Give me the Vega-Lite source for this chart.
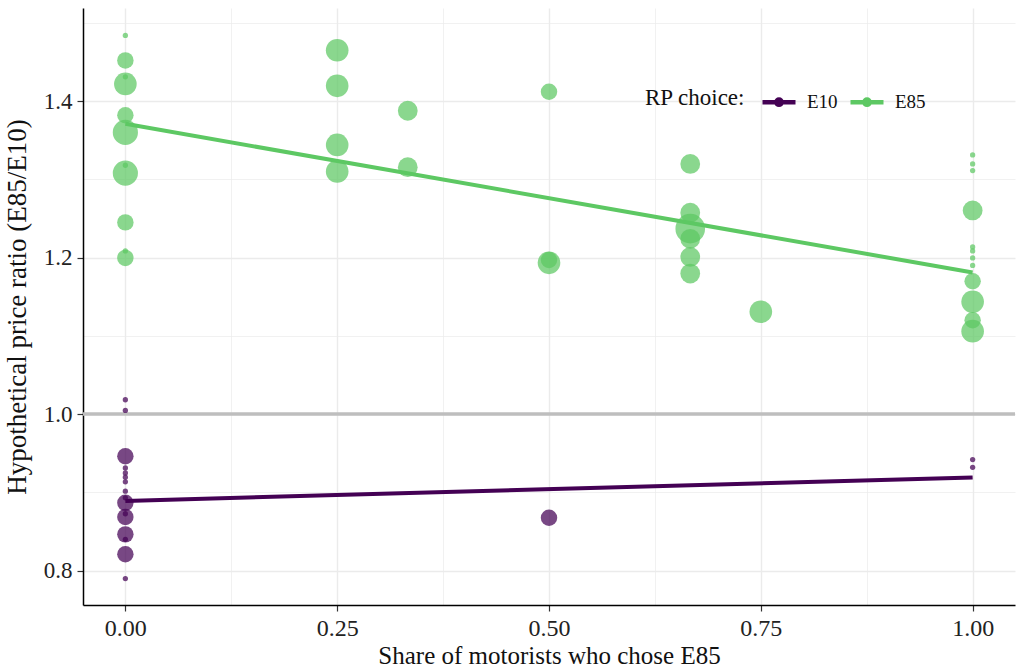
{
  "$schema": "https://vega.github.io/schema/vega-lite/v6.json",
  "width": 932,
  "height": 597,
  "autosize": {"type": "none"},
  "padding": {"left": 83, "top": 8, "right": 4, "bottom": 66},
  "background": "white",
  "config": {
    "view": {"stroke": null},
    "font": "Liberation Serif",
    "axis": {
      "labelFont": "Liberation Serif",
      "titleFont": "Liberation Serif",
      "labelColor": "#222",
      "titleColor": "#111",
      "titleFontWeight": "normal",
      "gridColor": "#EBEBEB",
      "domainColor": "#000000",
      "domainWidth": 1.5,
      "tickColor": "#333333",
      "tickWidth": 1.2,
      "tickSize": 6
    },
    "legend": {
      "labelFont": "Liberation Serif",
      "titleFont": "Liberation Serif",
      "symbolOpacity": 1
    }
  },
  "datasets": {
    "hline": [{"ratio": 1.0}],
    "points": [
      {"share": 0, "ratio": 1.484, "choice": "E85", "n": 1},
      {"share": 0, "ratio": 1.452, "choice": "E85", "n": 3},
      {"share": 0, "ratio": 1.431, "choice": "E85", "n": 1},
      {"share": 0, "ratio": 1.422, "choice": "E85", "n": 5},
      {"share": 0, "ratio": 1.382, "choice": "E85", "n": 3},
      {"share": 0, "ratio": 1.360, "choice": "E85", "n": 6},
      {"share": 0, "ratio": 1.318, "choice": "E85", "n": 1},
      {"share": 0, "ratio": 1.308, "choice": "E85", "n": 6},
      {"share": 0, "ratio": 1.245, "choice": "E85", "n": 3},
      {"share": 0, "ratio": 1.2085, "choice": "E85", "n": 1},
      {"share": 0, "ratio": 1.1996, "choice": "E85", "n": 3},
      {"share": 0.25, "ratio": 1.465, "choice": "E85", "n": 5},
      {"share": 0.25, "ratio": 1.4195, "choice": "E85", "n": 5},
      {"share": 0.25, "ratio": 1.344, "choice": "E85", "n": 5},
      {"share": 0.25, "ratio": 1.310, "choice": "E85", "n": 5},
      {"share": 0.3333, "ratio": 1.3877, "choice": "E85", "n": 4},
      {"share": 0.3333, "ratio": 1.3155, "choice": "E85", "n": 4},
      {"share": 0.5, "ratio": 1.412, "choice": "E85", "n": 3},
      {"share": 0.5, "ratio": 1.197, "choice": "E85", "n": 3},
      {"share": 0.5, "ratio": 1.1933, "choice": "E85", "n": 5},
      {"share": 0.6667, "ratio": 1.3197, "choice": "E85", "n": 4},
      {"share": 0.6667, "ratio": 1.2573, "choice": "E85", "n": 4},
      {"share": 0.6667, "ratio": 1.237, "choice": "E85", "n": 8},
      {"share": 0.6667, "ratio": 1.224, "choice": "E85", "n": 4},
      {"share": 0.6667, "ratio": 1.2009, "choice": "E85", "n": 4},
      {"share": 0.6667, "ratio": 1.1796, "choice": "E85", "n": 4},
      {"share": 0.75, "ratio": 1.1308, "choice": "E85", "n": 5},
      {"share": 1, "ratio": 1.3312, "choice": "E85", "n": 1},
      {"share": 1, "ratio": 1.3197, "choice": "E85", "n": 1},
      {"share": 1, "ratio": 1.3112, "choice": "E85", "n": 1},
      {"share": 1, "ratio": 1.2603, "choice": "E85", "n": 4},
      {"share": 1, "ratio": 1.2136, "choice": "E85", "n": 1},
      {"share": 1, "ratio": 1.2085, "choice": "E85", "n": 1},
      {"share": 1, "ratio": 1.1996, "choice": "E85", "n": 1},
      {"share": 1, "ratio": 1.190, "choice": "E85", "n": 1},
      {"share": 1, "ratio": 1.1698, "choice": "E85", "n": 3},
      {"share": 1, "ratio": 1.1436, "choice": "E85", "n": 5},
      {"share": 1, "ratio": 1.120, "choice": "E85", "n": 3},
      {"share": 1, "ratio": 1.106, "choice": "E85", "n": 5},
      {"share": 0, "ratio": 1.0183, "choice": "E10", "n": 1},
      {"share": 0, "ratio": 1.0047, "choice": "E10", "n": 1},
      {"share": 0, "ratio": 0.9461, "choice": "E10", "n": 3},
      {"share": 0, "ratio": 0.9312, "choice": "E10", "n": 1},
      {"share": 0, "ratio": 0.9248, "choice": "E10", "n": 1},
      {"share": 0, "ratio": 0.9194, "choice": "E10", "n": 1},
      {"share": 0, "ratio": 0.9134, "choice": "E10", "n": 1},
      {"share": 0, "ratio": 0.9015, "choice": "E10", "n": 1},
      {"share": 0, "ratio": 0.893, "choice": "E10", "n": 1},
      {"share": 0, "ratio": 0.8866, "choice": "E10", "n": 3},
      {"share": 0, "ratio": 0.8726, "choice": "E10", "n": 1},
      {"share": 0, "ratio": 0.8684, "choice": "E10", "n": 3},
      {"share": 0, "ratio": 0.8463, "choice": "E10", "n": 3},
      {"share": 0, "ratio": 0.840, "choice": "E10", "n": 1},
      {"share": 0, "ratio": 0.8208, "choice": "E10", "n": 3},
      {"share": 0, "ratio": 0.7898, "choice": "E10", "n": 1},
      {"share": 0.5, "ratio": 0.8675, "choice": "E10", "n": 3},
      {"share": 1, "ratio": 0.9418, "choice": "E10", "n": 1},
      {"share": 1, "ratio": 0.932, "choice": "E10", "n": 1}
    ],
    "fits": [
      {"share": 0, "ratio": 0.889, "choice": "E10"},
      {"share": 1, "ratio": 0.919, "choice": "E10"},
      {"share": 0, "ratio": 1.371, "choice": "E85"},
      {"share": 1, "ratio": 1.181, "choice": "E85"}
    ]
  },
  "encoding": {
    "x": {
      "field": "share",
      "type": "quantitative",
      "scale": {"domain": [-0.05, 1.05], "nice": false, "zero": false},
      "axis": {
        "title": "Share of motorists who chose E85",
        "titleFontSize": 25,
        "titlePadding": 3,
        "labelFontSize": 24,
        "labelPadding": 5,
        "values": [0, 0.125, 0.25, 0.375, 0.5, 0.625, 0.75, 0.875, 1],
        "labelExpr": "abs(datum.value*4-round(datum.value*4))<0.01 ? format(datum.value, '.2f') : ''",
        "tickOpacity": {"condition": {"test": "abs(datum.value*4-round(datum.value*4))<0.01", "value": 1}, "value": 0},
        "gridWidth": {"condition": {"test": "abs(datum.value*4-round(datum.value*4))<0.01", "value": 1.4}, "value": 0.7}
      }
    },
    "y": {
      "field": "ratio",
      "type": "quantitative",
      "scale": {"domain": [0.756, 1.519], "nice": false, "zero": false},
      "axis": {
        "title": "Hypothetical price ratio (E85/E10)",
        "titleFontSize": 27,
        "titlePadding": 12,
        "labelFontSize": 23,
        "labelPadding": 5,
        "values": [0.8, 0.9, 1.0, 1.1, 1.2, 1.3, 1.4, 1.5],
        "labelExpr": "abs(datum.value*5-round(datum.value*5))<0.01 ? format(datum.value, '.1f') : ''",
        "tickOpacity": {"condition": {"test": "abs(datum.value*5-round(datum.value*5))<0.01", "value": 1}, "value": 0},
        "gridWidth": {"condition": {"test": "abs(datum.value*5-round(datum.value*5))<0.01", "value": 1.4}, "value": 0.7}
      }
    }
  },
  "layer": [
    {
      "data": {"name": "hline"},
      "mark": {"type": "rule", "color": "#BEBEBE", "strokeWidth": 3.5},
      "encoding": {"y": {"field": "ratio", "type": "quantitative"}, "x": null}
    },
    {
      "data": {"name": "points"},
      "mark": {"type": "circle", "opacity": 0.72, "strokeWidth": 0},
      "encoding": {
        "color": {
          "field": "choice",
          "type": "nominal",
          "scale": {"domain": ["E10", "E85"], "range": ["#440154", "#5DC863"]}
        },
        "size": {
          "field": "n",
          "type": "quantitative",
          "scale": {"type": "linear", "domain": [1, 8], "range": [28, 876], "zero": false},
          "legend": null
        }
      }
    },
    {
      "data": {"name": "fits"},
      "mark": {"type": "line", "strokeWidth": 4},
      "encoding": {
        "color": {
          "field": "choice",
          "type": "nominal",
          "scale": {"domain": ["E10", "E85"], "range": ["#440154", "#5DC863"]},
          "legend": {
            "title": "RP choice:",
            "orient": "none",
            "legendX": 562,
            "legendY": 75,
            "direction": "horizontal",
            "titleOrient": "left",
            "titleFontSize": 23,
            "titleFontWeight": "normal",
            "titleColor": "#111",
            "titlePadding": 14,
            "titleBaseline": "middle",
            "labelFontSize": 19,
            "labelColor": "#111",
            "labelOffset": 9,
            "columnPadding": 3,
            "symbolType": "M-1,0L1,0M-0.16,0A0.16,0.16,0,1,1,0.16,0A0.16,0.16,0,1,1,-0.16,0",
            "symbolSize": 1089,
            "symbolStrokeWidth": 4.5,
            "symbolOpacity": 1,
            "encode": {"symbols": {"update": {"opacity": {"value": 1}, "strokeOpacity": {"value": 1}}}}
          }
        }
      }
    }
  ]
}
